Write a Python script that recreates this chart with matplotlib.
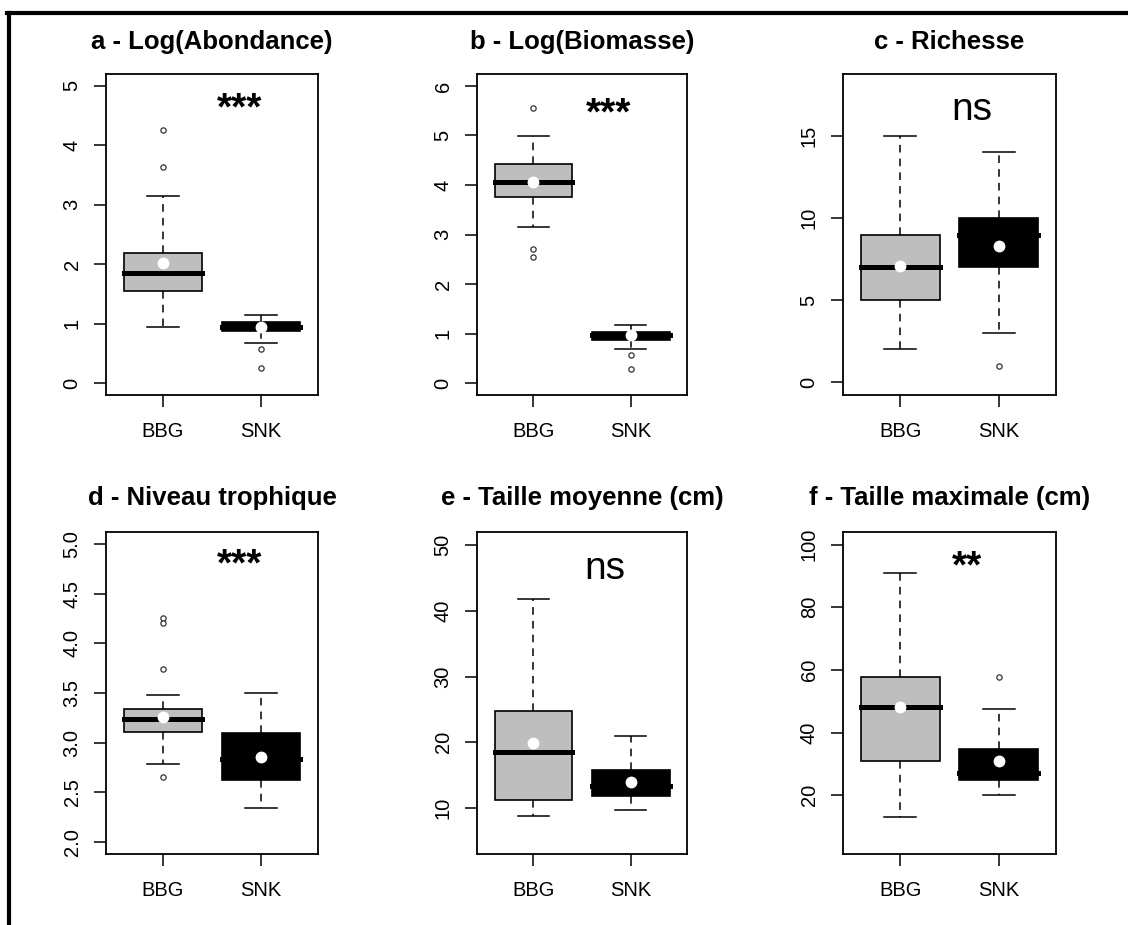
import matplotlib
matplotlib.use("Agg")
import matplotlib.pyplot as plt
from matplotlib.lines import Line2D

plt.rcParams["font.family"] = ["Liberation Sans", "DejaVu Sans"]

sites = ["BBG", "SNK"]
box_colors = ["#BEBEBE", "#000000"]

panel_titles = [
    "a - Log(Abondance)",
    "b - Log(Biomasse)",
    "c - Richesse",
    "d - Niveau trophique",
    "e - Taille moyenne (cm)",
    "f - Taille maximale (cm)",
]
signif_labels = ["***", "***", "ns", "***", "ns", "**"]

# Boxplot summaries per site: [lower whisker, Q1, median, Q3, upper whisker]
abondance_stats = [[0.95, 1.55, 1.86, 2.19, 3.14], [0.68, 0.87, 0.94, 1.02, 1.15]]
abondance_means = [2.02, 0.94]
abondance_outliers = [[4.26, 3.64], [0.57, 0.26]]

biomasse_stats = [[3.16, 3.76, 4.06, 4.42, 4.99], [0.69, 0.88, 0.97, 1.03, 1.18]]
biomasse_means = [4.06, 0.97]
biomasse_outliers = [[5.55, 2.71, 2.54], [0.57, 0.28]]

richesse_stats = [[2.0, 5.0, 7.0, 9.0, 15.0], [3.0, 7.0, 9.0, 10.0, 14.0]]
richesse_means = [7.08, 8.28]
richesse_outliers = [[], [1.0]]

trophique_stats = [[2.79, 3.11, 3.24, 3.34, 3.48], [2.34, 2.62, 2.84, 3.10, 3.50]]
trophique_means = [3.26, 2.86]
trophique_outliers = [[4.25, 4.20, 3.74, 2.65], []]

taille_moy_stats = [[8.8, 11.2, 18.5, 24.7, 41.8], [9.75, 11.8, 13.4, 15.8, 21.0]]
taille_moy_means = [19.85, 14.0]
taille_moy_outliers = [[], []]

taille_max_stats = [[13.1, 31.0, 48.3, 57.9, 91.0], [20.1, 25.0, 27.1, 34.9, 47.7]]
taille_max_means = [48.1, 31.1]
taille_max_outliers = [[], [57.8]]

all_stats = [abondance_stats, biomasse_stats, richesse_stats,
             trophique_stats, taille_moy_stats, taille_max_stats]
all_means = [abondance_means, biomasse_means, richesse_means,
             trophique_means, taille_moy_means, taille_max_means]
all_outliers = [abondance_outliers, biomasse_outliers, richesse_outliers,
                trophique_outliers, taille_moy_outliers, taille_max_outliers]

y_ticks = [
    [0, 1, 2, 3, 4, 5],
    [0, 1, 2, 3, 4, 5, 6],
    [0, 5, 10, 15],
    [2.0, 2.5, 3.0, 3.5, 4.0, 4.5, 5.0],
    [10, 20, 30, 40, 50],
    [20, 40, 60, 80, 100],
]
y_tick_labels = [
    ["0", "1", "2", "3", "4", "5"],
    ["0", "1", "2", "3", "4", "5", "6"],
    ["0", "5", "10", "15"],
    ["2.0", "2.5", "3.0", "3.5", "4.0", "4.5", "5.0"],
    ["10", "20", "30", "40", "50"],
    ["20", "40", "60", "80", "100"],
]
y_limits = [(-0.2, 5.2), (-0.24, 6.24), (-0.78, 18.78),
            (1.88, 5.12), (3.0, 52.0), (1.3, 104.0)]
# significance label anchor (x, baseline y) in data units
signif_pos = [(1.78, 4.43), (1.77, 5.22), (1.73, 16.0),
              (1.78, 4.68), (1.74, 44.8), (1.68, 89.5)]

W, H = 1128, 925
fig = plt.figure(figsize=(W / 100, H / 100), dpi=100)

# axes boxes in pixels: (left, right, top, bottom)
col_px = [(106, 318), (477, 687), (843, 1056)]
row_px = [(74, 395), (532, 854)]
title_y_px = [42, 498]

for i in range(6):
    r, c = divmod(i, 3)
    l, rr = col_px[c]
    t, b = row_px[r]
    ax = fig.add_axes([l / W, 1 - b / H, (rr - l) / W, (b - t) / H])

    stats = []
    for j in range(2):
        lo, q1, med, q3, hi = all_stats[i][j]
        stats.append(dict(whislo=lo, q1=q1, med=med, q3=q3, whishi=hi,
                          mean=all_means[i][j], fliers=all_outliers[i][j],
                          label=sites[j]))

    parts = ax.bxp(
        stats, positions=[1, 2], widths=0.8, capwidths=0.32,
        patch_artist=True, showmeans=True, showfliers=True,
        boxprops=dict(edgecolor="black", linewidth=1.2),
        whiskerprops=dict(color="black", linewidth=1.1, linestyle=(0, (5, 4))),
        capprops=dict(color="black", linewidth=1.1),
        medianprops=dict(color="black", linewidth=3.6, solid_capstyle="projecting"),
        meanprops=dict(marker="o", markerfacecolor="white", markeredgecolor="white",
                       markersize=7.5, zorder=6),
        flierprops=dict(marker="o", markerfacecolor="white", markeredgecolor="#333333",
                        markersize=3.8, markeredgewidth=0.9),
    )
    for patch, col in zip(parts["boxes"], box_colors):
        patch.set_facecolor(col)

    ax.set_xlim(0.42, 2.58)
    ax.set_ylim(*y_limits[i])
    ax.set_xticks([1, 2])
    ax.set_xticklabels(sites)
    ax.set_yticks(y_ticks[i])
    ax.set_yticklabels(y_tick_labels[i])
    ax.tick_params(axis="both", direction="out", length=8.5, width=1.1,
                   labelsize=14.5, colors="black")
    ax.tick_params(axis="x", pad=11)
    ax.tick_params(axis="y", pad=9, labelrotation=90)
    for lab in ax.get_yticklabels():
        lab.set_va("center")
    for sp in ax.spines.values():
        sp.set_linewidth(1.3)
        sp.set_color("black")

    sx, sy = signif_pos[i]
    is_stars = signif_labels[i].startswith("*")
    ax.text(sx, sy, signif_labels[i], ha="center", va="baseline",
            fontsize=28, color="black",
            fontweight="bold" if is_stars else "normal")

    fig.text(((l + rr) / 2) / W, 1 - title_y_px[r] / H, panel_titles[i],
             ha="center", va="center", fontsize=18.5, fontweight="bold")

# outer frame (top and left edges)
fig.add_artist(Line2D([7 / W, 1.0], [1 - 13 / H, 1 - 13 / H],
                      transform=fig.transFigure, color="black", linewidth=3))
fig.add_artist(Line2D([9 / W, 9 / W], [0.0, 1 - 13 / H],
                      transform=fig.transFigure, color="black", linewidth=3))

fig.savefig("out.png", dpi=100, facecolor="white")
